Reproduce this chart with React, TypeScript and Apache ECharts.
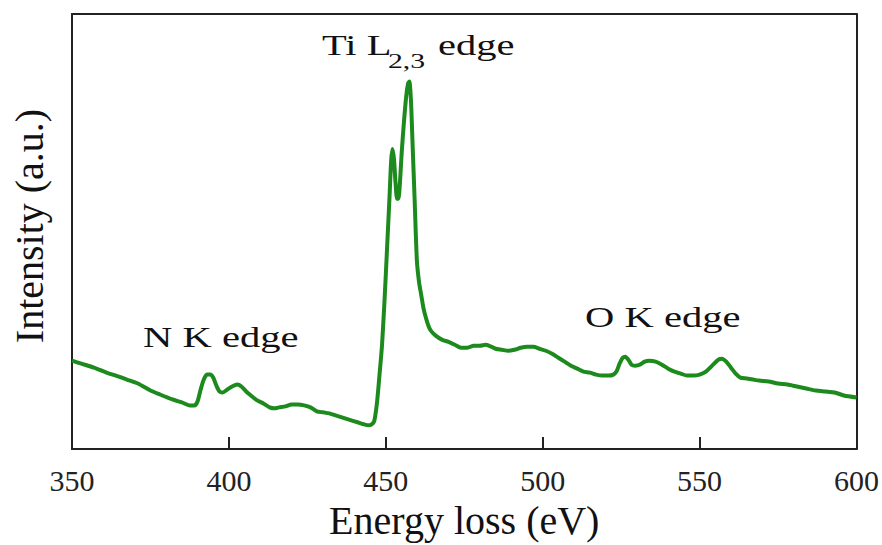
import React, { useEffect, useRef } from "react";
import * as echarts from "echarts";

// Energy loss (eV)
const energy: number[] = [
  350, 353, 357, 361, 364, 367.5, 371, 375, 378, 382, 385, 387.5, 389, 390, 391, 392, 393, 394, 395, 396,
  397, 398, 399.5, 401, 402.7, 404, 405.5, 407, 409, 411, 413, 414.5, 416, 418, 420, 422, 424, 426, 428, 430,
  432, 433, 435, 437, 439, 441, 443, 444.5, 445.5, 446.3, 447.2, 448, 448.8, 449.6, 450.4, 451.2, 451.7, 452.1, 452.6, 453.1,
  453.6, 454.0, 454.5, 455.1, 455.8, 456.5, 457.1, 457.5, 458.0, 458.5, 459.2, 459.9, 460.6, 461.3, 462.0, 462.8, 463.6, 464.4, 466, 468,
  470, 472, 474, 476, 478, 480, 481.8, 483, 485, 487, 489, 491, 493, 495, 497, 499, 501, 503, 505, 507,
  509, 511, 513, 515, 517, 519, 521, 522.5, 523.5, 524.5, 525.5, 526.3, 527.3, 528.3, 529.5, 531, 532.5, 534, 536, 538,
  540, 542, 544, 546, 548, 550, 552, 554, 556, 557.1, 558.5, 560, 561.5, 563, 565, 567, 569, 572, 575, 578,
  581, 584, 587, 590, 593, 596, 600,
];

// Intensity (a.u.)
const intensity: number[] = [
  89, 86, 82, 77, 74, 70, 66, 59, 55, 50, 47, 44, 44, 48, 60, 70, 75, 75, 72, 64,
  58, 57, 60, 63, 65, 63, 58, 54, 49, 46, 42, 41, 42, 43, 45, 45, 44, 42, 38, 37,
  36, 35, 33, 31, 29, 27, 25, 24, 25, 28, 47, 75, 105, 150, 202, 255, 290, 302, 292, 268,
  252, 252, 268, 300, 330, 355, 368, 370, 352, 310, 250, 190, 168, 155, 142, 132, 124, 119, 114, 110,
  108, 105, 102, 102, 104, 104, 105, 104, 101, 100, 99, 100, 102, 103, 103, 101, 99, 96, 92, 88,
  84, 81, 78, 77, 75, 74, 74, 75, 78, 86, 92, 93, 90, 85, 84, 85, 88, 89, 88, 85,
  81, 78, 76, 74, 74, 75, 78, 84, 90, 91, 88, 82, 76, 72, 71, 70, 69, 68, 66, 65,
  63, 61, 59, 58, 57, 54, 52,
];

const xTicks = { min: 350, max: 600, interval: 50 };
const xTitle = "Energy loss (eV)";
const yTitle = "Intensity (a.u.)";

const SERIF = "Liberation Serif";
const FRAME = "#222222";

export default function App() {
  const ref = useRef<HTMLDivElement>(null);

  useEffect(() => {
    if (!ref.current) return;
    const chart = echarts.init(ref.current, undefined, { renderer: "svg" });
    const data = energy.map((e, i) => [e, intensity[i]]);
    const txt = (text: string, size: number) => ({
      text,
      fontFamily: SERIF,
      fontSize: size,
      fill: "#111111",
      align: "left",
      verticalAlign: "middle",
    });
    const frameLine = { show: true, onZero: false, lineStyle: { color: FRAME, width: 2 } };
    chart.setOption({
      animation: false,
      backgroundColor: "#ffffff",
      grid: { left: 72, top: 14, right: 23, bottom: 93, show: false },
      xAxis: [
        {
          type: "value",
          position: "bottom",
          min: xTicks.min,
          max: xTicks.max,
          interval: xTicks.interval,
          name: xTitle,
          nameLocation: "middle",
          nameGap: 49,
          nameTextStyle: { fontFamily: SERIF, fontSize: 40, color: "#111111" },
          axisLine: frameLine,
          axisTick: { show: true, inside: false, length: -12, lineStyle: { color: FRAME, width: 2 } },
          axisLabel: { show: true, fontFamily: SERIF, fontSize: 30, color: "#222222", margin: 16 },
          splitLine: { show: false },
        },
        {
          type: "value",
          position: "top",
          min: xTicks.min,
          max: xTicks.max,
          interval: xTicks.interval,
          axisLine: frameLine,
          axisTick: { show: false },
          axisLabel: { show: false },
          splitLine: { show: false },
        },
      ],
      yAxis: [
        {
          type: "value",
          position: "left",
          min: 0,
          max: 438,
          axisLine: frameLine,
          axisTick: { show: false },
          axisLabel: { show: false },
          splitLine: { show: false },
        },
        {
          type: "value",
          position: "right",
          min: 0,
          max: 438,
          axisLine: frameLine,
          axisTick: { show: false },
          axisLabel: { show: false },
          splitLine: { show: false },
        },
      ],
      graphic: [
        {
          type: "text",
          x: 29,
          y: 226,
          rotation: Math.PI / 2,
          style: { ...txt(yTitle, 40), align: "center" },
        },
        { type: "text", x: 322, y: 45, scaleX: 1.35, style: txt("Ti L", 30) },
        { type: "text", x: 388, y: 61, scaleX: 1.35, style: txt("2,3", 22) },
        { type: "text", x: 438, y: 45, scaleX: 1.35, style: txt("edge", 30) },
        { type: "text", x: 143, y: 338, scaleX: 1.4, style: txt("N K edge", 29) },
        { type: "text", x: 585, y: 318, scaleX: 1.4, style: txt("O K edge", 29) },
      ],
      series: [
        {
          type: "line",
          data,
          showSymbol: false,
          smooth: 0.25,
          lineStyle: { color: "#1c8a1c", width: 4 },
          z: 3,
        },
      ],
    });
    return () => chart.dispose();
  }, []);

  return <div ref={ref} style={{ position: "fixed", left: 0, top: 0, width: 882, height: 545 }} />;
}
